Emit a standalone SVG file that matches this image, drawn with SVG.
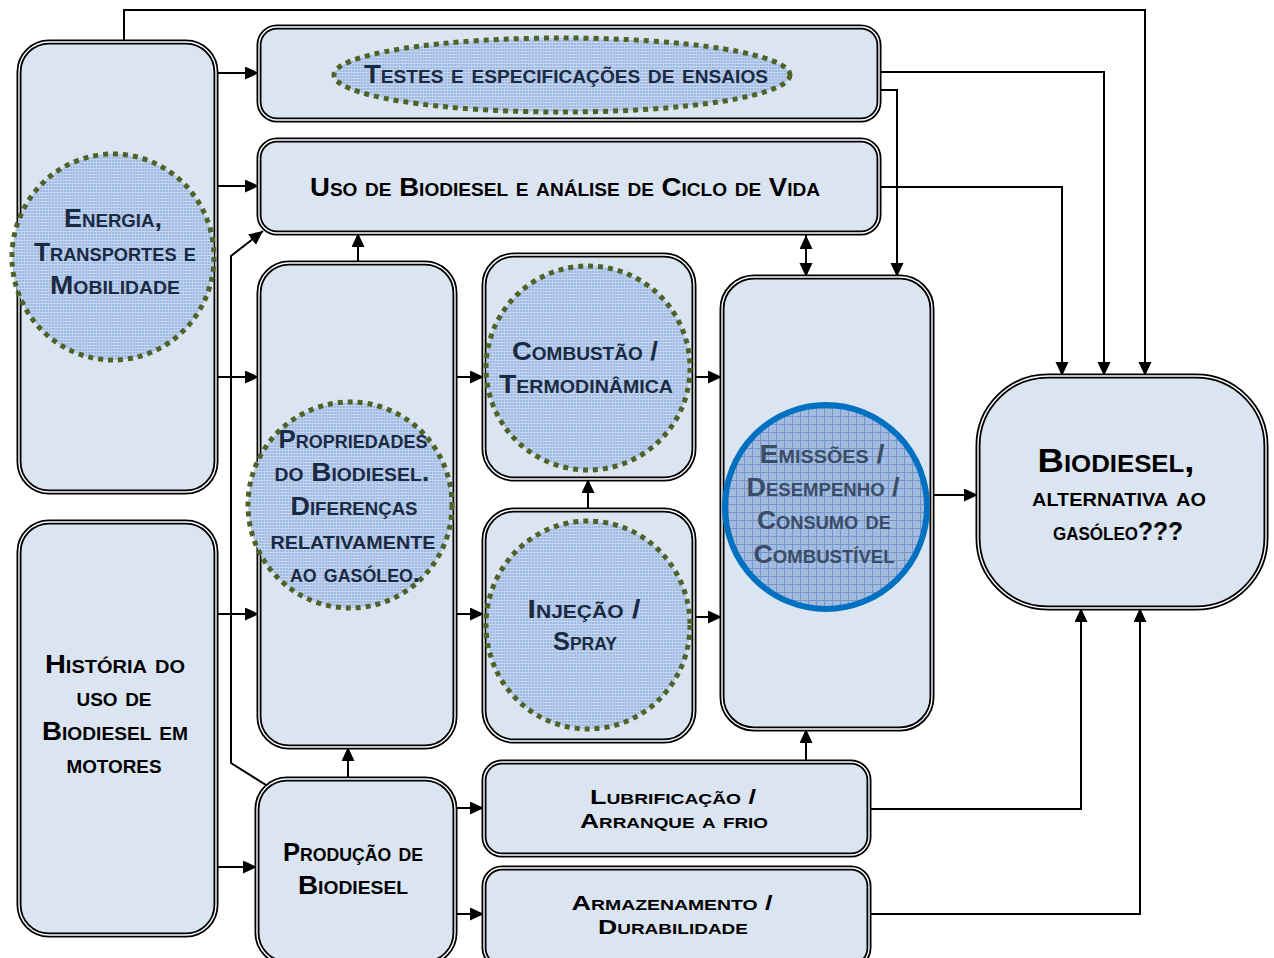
<svg xmlns="http://www.w3.org/2000/svg" width="1274" height="958" viewBox="0 0 1274 958">
<defs>
<style>
.box{fill:#dbe5f1;stroke:#000;stroke-width:5}
.gap{fill:none;stroke:#fff;stroke-width:1.4}
.dot{fill:url(#grid);stroke:#4f6228;stroke-width:5;stroke-dasharray:5 5}
.blue{fill:url(#grid2);stroke:#0070c0;stroke-width:6}
.t{font-family:"Liberation Sans",Arial,sans-serif;font-weight:bold;font-variant:small-caps;font-size:26px;text-anchor:middle;fill:#000}
.s{font-size:21px}
.e{fill:#1a2a42}
.em{fill:#3a4c66}
.c{fill:none;stroke:#000;stroke-width:2}
.a{marker-end:url(#arr)}
</style>
<pattern id="grid" width="3" height="3" patternUnits="userSpaceOnUse">
<rect width="3" height="3" fill="#9fbae2"/>
<rect width="3" height="1" fill="#c8d8f0"/>
<rect width="1" height="3" fill="#bccfec"/>
</pattern>
<pattern id="grid2" width="8" height="8" patternUnits="userSpaceOnUse">
<rect width="8" height="8" fill="#a3bbdf"/>
<rect width="8" height="1" fill="#7496cb"/>
<rect width="1" height="8" fill="#7496cb"/>
</pattern>
<marker id="arr" markerUnits="userSpaceOnUse" markerWidth="16" markerHeight="14" refX="14" refY="6.5" orient="auto-start-reverse">
<path d="M0,0 L14,6.5 L0,13 z" fill="#000"/>
</marker>
</defs>

<g id="connectors">
<path class="c a" d="M124,42 V10 H1145 V376"/>
<path class="c a" d="M216,73 H259"/>
<path class="c a" d="M216,186 H259"/>
<path class="c a" d="M216,377 H259"/>
<path class="c a" d="M216,614 H259"/>
<path class="c a" d="M216,867 H257"/>
<path class="c a" d="M266,785 L231,763 V256 L263,231"/>
<path class="c a" d="M358,263 V233"/>
<path class="c a" d="M348,779 V747"/>
<path class="c a" d="M455,377 H484"/>
<path class="c a" d="M455,614 H484"/>
<path class="c a" d="M588,510 V479"/>
<path class="c a" d="M694,377 H722"/>
<path class="c a" d="M694,617 H722"/>
<path class="c a" d="M806,235 V277" style="marker-start:url(#arr)"/>
<path class="c a" d="M879,90 H897 V277"/>
<path class="c a" d="M879,72 H1104 V376"/>
<path class="c a" d="M879,187 H1062 V376"/>
<path class="c a" d="M932,495 H978"/>
<path class="c a" d="M869,809 H1081 V608"/>
<path class="c a" d="M869,914 H1140 V608"/>
<path class="c a" d="M455,808 H484"/>
<path class="c a" d="M455,914 H484"/>
<path class="c a" d="M806,762 V729"/>
</g>

<g id="energia">
<rect class="box" x="19" y="42" width="197" height="450" rx="30"/>
<rect class="gap" x="19" y="42" width="197" height="450" rx="30"/>
<ellipse class="dot" cx="113" cy="257" rx="101" ry="103"/>
<text class="t e" x="113" y="227" textLength="98" lengthAdjust="spacingAndGlyphs">Energia,</text>
<text class="t e" x="115" y="261" textLength="162" lengthAdjust="spacingAndGlyphs">Transportes e</text>
<text class="t e" x="115" y="294" textLength="130" lengthAdjust="spacingAndGlyphs">Mobilidade</text>
</g>

<g id="testes">
<rect class="box" x="259" y="27" width="620" height="93" rx="18"/>
<rect class="gap" x="259" y="27" width="620" height="93" rx="18"/>
<ellipse class="dot" cx="562" cy="75" rx="228" ry="37"/>
<text class="t e" x="566" y="83" textLength="404" lengthAdjust="spacingAndGlyphs">Testes e especificações de ensaios</text>
</g>

<g id="uso">
<rect class="box" x="259" y="140" width="620" height="93" rx="18"/>
<rect class="gap" x="259" y="140" width="620" height="93" rx="18"/>
<text class="t" x="565" y="196" textLength="510" lengthAdjust="spacingAndGlyphs">Uso de Biodiesel e análise de Ciclo de Vida</text>
</g>

<g id="propriedades">
<rect class="box" x="259" y="263" width="196" height="484" rx="30"/>
<rect class="gap" x="259" y="263" width="196" height="484" rx="30"/>
<ellipse class="dot" cx="350" cy="505" rx="102" ry="103"/>
<text class="t e" x="353" y="448" textLength="149" lengthAdjust="spacingAndGlyphs">Propriedades</text>
<text class="t e" x="352" y="481" textLength="155" lengthAdjust="spacingAndGlyphs">do Biodiesel.</text>
<text class="t e" x="354" y="515" textLength="127" lengthAdjust="spacingAndGlyphs">Diferenças</text>
<text class="t e" x="353" y="549" textLength="165" lengthAdjust="spacingAndGlyphs">relativamente</text>
<text class="t e" x="355" y="582" textLength="130" lengthAdjust="spacingAndGlyphs">ao gasóleo.</text>
</g>

<g id="combustao">
<rect class="box" x="484" y="255" width="210" height="224" rx="30"/>
<rect class="gap" x="484" y="255" width="210" height="224" rx="30"/>
<ellipse class="dot" cx="588" cy="368" rx="102" ry="102"/>
<text class="t e" x="585" y="360" textLength="146" lengthAdjust="spacingAndGlyphs">Combustão /</text>
<text class="t e" x="586" y="393" textLength="174" lengthAdjust="spacingAndGlyphs">Termodinâmica</text>
</g>

<g id="injecao">
<rect class="box" x="484" y="510" width="210" height="231" rx="30"/>
<rect class="gap" x="484" y="510" width="210" height="231" rx="30"/>
<ellipse class="dot" cx="588" cy="625" rx="102" ry="104"/>
<text class="t e" x="584" y="618" textLength="113" lengthAdjust="spacingAndGlyphs">Injeção /</text>
<text class="t e" x="585" y="650" textLength="64" lengthAdjust="spacingAndGlyphs">Spray</text>
</g>

<g id="emissoes">
<rect class="box" x="722" y="277" width="210" height="452" rx="32"/>
<rect class="gap" x="722" y="277" width="210" height="452" rx="32"/>
<ellipse class="blue" cx="826" cy="507" rx="101" ry="102"/>
<text class="t em" x="822" y="463" textLength="125" lengthAdjust="spacingAndGlyphs">Emissões /</text>
<text class="t em" x="823" y="496" textLength="153" lengthAdjust="spacingAndGlyphs">Desempenho /</text>
<text class="t em" x="824" y="529" textLength="134" lengthAdjust="spacingAndGlyphs">Consumo de</text>
<text class="t em" x="824" y="563" textLength="141" lengthAdjust="spacingAndGlyphs">Combustível</text>
</g>

<g id="biodiesel">
<rect class="box" x="978" y="376" width="288" height="232" rx="70"/>
<rect class="gap" x="978" y="376" width="288" height="232" rx="70"/>
<text class="t" x="1116" y="472" style="font-size:34px" textLength="157" lengthAdjust="spacingAndGlyphs">Biodiesel,</text>
<text class="t" x="1119" y="506" textLength="174" lengthAdjust="spacingAndGlyphs">alternativa ao</text>
<text class="t" x="1118" y="540" textLength="130" lengthAdjust="spacingAndGlyphs">gasóleo???</text>
</g>

<g id="historia">
<rect class="box" x="19" y="522" width="197" height="413" rx="30"/>
<rect class="gap" x="19" y="522" width="197" height="413" rx="30"/>
<text class="t" x="115" y="673" textLength="140" lengthAdjust="spacingAndGlyphs">História do</text>
<text class="t" x="114" y="706" textLength="75" lengthAdjust="spacingAndGlyphs">uso de</text>
<text class="t" x="115" y="740" textLength="146" lengthAdjust="spacingAndGlyphs">Biodiesel em</text>
<text class="t" x="114" y="773" textLength="95" lengthAdjust="spacingAndGlyphs">motores</text>
</g>

<g id="producao">
<rect class="box" x="257" y="779" width="198" height="184" rx="30"/>
<rect class="gap" x="257" y="779" width="198" height="184" rx="30"/>
<text class="t" x="353" y="861" textLength="140" lengthAdjust="spacingAndGlyphs">Produção de</text>
<text class="t" x="353" y="894" textLength="110" lengthAdjust="spacingAndGlyphs">Biodiesel</text>
</g>

<g id="lubrificacao">
<rect class="box" x="484" y="762" width="385" height="93" rx="18"/>
<rect class="gap" x="484" y="762" width="385" height="93" rx="18"/>
<text class="t s" x="673" y="804" textLength="166" lengthAdjust="spacingAndGlyphs">Lubrificação /</text>
<text class="t s" x="674" y="828" textLength="188" lengthAdjust="spacingAndGlyphs">Arranque a frio</text>
</g>

<g id="armazenamento">
<rect class="box" x="484" y="868" width="385" height="98" rx="18"/>
<rect class="gap" x="484" y="868" width="385" height="98" rx="18"/>
<text class="t s" x="672" y="910" textLength="201" lengthAdjust="spacingAndGlyphs">Armazenamento /</text>
<text class="t s" x="673" y="934" textLength="150" lengthAdjust="spacingAndGlyphs">Durabilidade</text>
</g>
</svg>
